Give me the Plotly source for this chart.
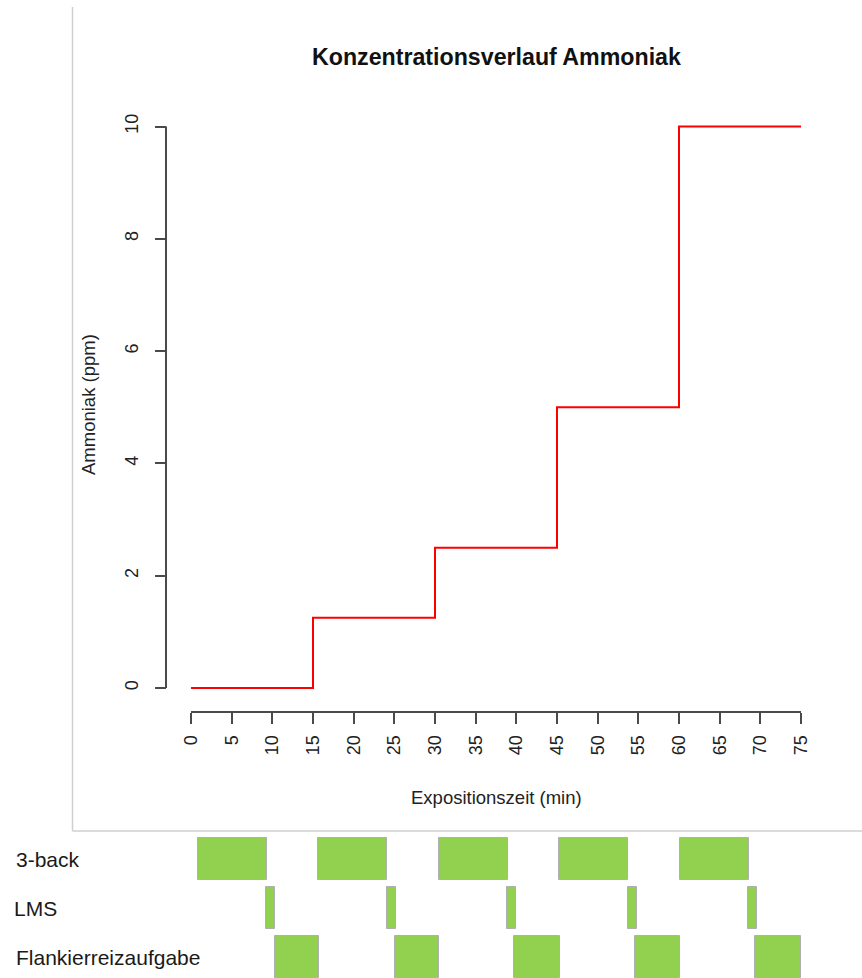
import plotly.graph_objects as go

# ---------------- data ----------------
time_points = [0, 15, 30, 45, 60, 75]
ammonia_ppm = [0, 1.25, 2.5, 5, 10, 10]

x_ticks = list(range(0, 80, 5))
y_ticks = [0, 2, 4, 6, 8, 10]

task_names = ["3-back", "LMS", "Flankierreizaufgabe"]
back3_start = [0.9, 15.6, 30.5, 45.3, 60.1]
back3_end = [9.4, 24.1, 39.0, 53.7, 68.6]
lms_start = [9.2, 24.1, 38.9, 53.7, 68.5]
lms_end = [10.3, 25.2, 40.0, 54.8, 69.6]
flank_start = [10.3, 25.1, 39.7, 54.6, 69.3]
flank_end = [15.7, 30.5, 45.4, 60.1, 75.0]

title_text = "Konzentrationsverlauf Ammoniak"
x_title = "Expositionszeit (min)"
y_title = "Ammoniak (ppm)"

# ---------------- layout geometry (pixels) ----------------
W, H = 862, 978
FONT = "Liberation Sans, Arial, sans-serif"
AX = "#4a4a4a"

px_x0, px_x75 = 191.0, 801.0
kx = (px_x75 - px_x0) / 75.0
x_range = [(0 - px_x0) / kx, (W - px_x0) / kx]

px_y0, px_y10 = 688.0, 126.5
ky = (px_y0 - px_y10) / 10.0
y_bot_px, y_top_px = 712.0, 104.0
y_range = [-(y_bot_px - px_y0) / ky, (px_y0 - y_top_px) / ky]
y_domain = [1 - y_bot_px / H, 1 - y_top_px / H]

def fy(py):
    return 1 - py / H

# lower task panel: rows centred at 859 / 908 / 957 px, 49 px apart
row_step = 49.0
low_top_px, low_bot_px = 832.0, 978.0
y2_range = [-(low_bot_px - 957.0) / row_step, 2 + (859.0 - low_top_px) / row_step]
y2_domain = [0.0, 1 - low_top_px / H]

fig = go.Figure()

fig.add_trace(go.Scatter(
    x=time_points, y=ammonia_ppm, mode="lines", line_shape="hv",
    line=dict(color="#ff0000", width=2), xaxis="x", yaxis="y", showlegend=False,
    hoverinfo="skip",
))

cat_order = ["Flankierreizaufgabe", "LMS", "3-back"]
for name, starts, ends in [("3-back", back3_start, back3_end),
                           ("LMS", lms_start, lms_end),
                           ("Flankierreizaufgabe", flank_start, flank_end)]:
    fig.add_trace(go.Bar(
        y=[name] * len(starts), x=[e - s for s, e in zip(starts, ends)], base=starts,
        orientation="h", width=42.0 / row_step,
        marker=dict(color="#92d050", line=dict(color="#b0b0b0", width=1)),
        xaxis="x2", yaxis="y2", showlegend=False, hoverinfo="skip",
    ))

fig.update_layout(
    width=W, height=H, autosize=False,
    margin=dict(l=0, r=0, t=0, b=0, pad=0),
    paper_bgcolor="white", plot_bgcolor="rgba(0,0,0,0)",
    font=dict(family=FONT, color="#222222"),
    barmode="overlay", bargap=0,
    xaxis=dict(domain=[0, 1], range=x_range, anchor="y", showgrid=False, zeroline=False,
               showline=False, ticks="outside", ticklen=11, tickwidth=2, tickcolor=AX,
               tickmode="array", tickvals=x_ticks, ticktext=[str(v) for v in x_ticks],
               tickangle=-90, ticklabelstandoff=4,
               tickfont=dict(size=18, color="#222222", family=FONT)),
    yaxis=dict(domain=y_domain, range=y_range, anchor="free", position=166.0 / W,
               showgrid=False, zeroline=False, showline=False, ticks="outside",
               ticklen=11, tickwidth=2, tickcolor=AX, tickmode="array", tickvals=y_ticks,
               ticktext=[str(v) for v in y_ticks], tickangle=-90, ticklabelstandoff=10,
               tickfont=dict(size=18, color="#222222", family=FONT)),
    xaxis2=dict(domain=[0, 1], range=x_range, anchor="y2", visible=False),
    yaxis2=dict(domain=y2_domain, range=y2_range, anchor="x2", visible=False,
                type="category", categoryorder="array", categoryarray=cat_order),
)

# axis lines spanning only first to last tick (R style)
fig.add_shape(type="line", xref="x", yref="paper", x0=x_ticks[0], x1=x_ticks[-1],
              y0=fy(y_bot_px), y1=fy(y_bot_px), line=dict(color=AX, width=2))
fig.add_shape(type="line", xref="paper", yref="y", x0=166.0 / W, x1=166.0 / W,
              y0=y_ticks[0], y1=y_ticks[-1], line=dict(color=AX, width=2))

# light grey frame lines
fig.add_shape(type="line", xref="paper", yref="paper", x0=72.5 / W, x1=72.5 / W,
              y0=fy(7), y1=fy(831), line=dict(color="#cfcfcf", width=1.5))
fig.add_shape(type="line", xref="paper", yref="paper", x0=72.5 / W, x1=1,
              y0=fy(831), y1=fy(831), line=dict(color="#cfcfcf", width=1.5))

# titles
fig.add_annotation(text="<b>" + title_text + "</b>", xref="paper", yref="paper",
                   x=496 / W, y=fy(57), xanchor="center", yanchor="middle", showarrow=False,
                   font=dict(size=23.2, color="#111111", family=FONT))
fig.add_annotation(text=x_title, xref="paper", yref="paper", x=497 / W, y=fy(797),
                   xanchor="center", yanchor="middle", showarrow=False,
                   font=dict(size=18.5, color="#222222", family=FONT))
fig.add_annotation(text=y_title, xref="paper", yref="paper", x=88 / W, y=fy(405),
                   xanchor="center", yanchor="middle", showarrow=False, textangle=-90,
                   font=dict(size=18.5, color="#222222", family=FONT))

# task labels
for name, ypx, xpx in [("3-back", 859, 14), ("LMS", 908, 12), ("Flankierreizaufgabe", 957, 14)]:
    fig.add_annotation(text=name, xref="paper", yref="paper", x=xpx / W, y=fy(ypx),
                       xanchor="left", yanchor="middle", showarrow=False,
                       font=dict(size=21, color="#1a1a1a", family=FONT))

fig.write_html("out.html", config={"displayModeBar": False},
               post_script="document.body.style.margin='0';")
